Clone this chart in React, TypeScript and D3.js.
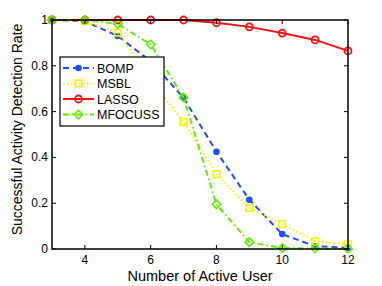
import React, { useEffect, useRef } from 'react';
import * as d3 from 'd3';

const users = [3, 4, 5, 6, 7, 8, 9, 10, 11, 12];
const bomp = [1, 0.995, 0.93, 0.82, 0.66, 0.425, 0.215, 0.065, 0.012, 0.005];
const msbl = [1, 0.995, 0.945, 0.74, 0.555, 0.327, 0.179, 0.109, 0.034, 0.022];
const lasso = [1, 1, 1, 1, 1, 0.988, 0.97, 0.943, 0.913, 0.865];
const mfocuss = [1, 1, 0.983, 0.893, 0.662, 0.195, 0.03, 0.004, 0.002, 0];

const xTicks = [4, 6, 8, 10, 12];
const yTicks = [0, 0.2, 0.4, 0.6, 0.8, 1];

const seriesList = [
  { name: 'BOMP', values: bomp, color: '#1f4fff', dash: '6,4', marker: 'dot' },
  { name: 'MSBL', values: msbl, color: '#f5f500', dash: '1.5,2.5', marker: 'square' },
  { name: 'LASSO', values: lasso, color: '#ff1010', dash: null, marker: 'circle' },
  { name: 'MFOCUSS', values: mfocuss, color: '#5ef000', dash: '6,3,1.5,3', marker: 'diamond' },
];

const W = 382;
const H = 286;
const margin = { left: 52, right: 34, top: 20, bottom: 37 };
const font = 'Arial, "Liberation Sans", sans-serif';

function drawMarker(g: any, kind: string, x: number, y: number, color: string) {
  if (kind === 'dot') {
    g.append('circle').attr('cx', x).attr('cy', y).attr('r', 3.3).attr('fill', color);
  } else if (kind === 'square') {
    g.append('rect').attr('x', x - 3.3).attr('y', y - 3.3).attr('width', 6.6).attr('height', 6.6)
      .attr('fill', 'none').attr('stroke', color).attr('stroke-width', 1.6);
  } else if (kind === 'circle') {
    g.append('circle').attr('cx', x).attr('cy', y).attr('r', 3.5)
      .attr('fill', 'none').attr('stroke', color).attr('stroke-width', 1.8);
  } else {
    const s = 4.2;
    g.append('path').attr('d', `M${x},${y - s}L${x + s},${y}L${x},${y + s}L${x - s},${y}Z`)
      .attr('fill', 'none').attr('stroke', color).attr('stroke-width', 1.6);
  }
}

export default function App() {
  const ref = useRef<SVGSVGElement>(null);

  useEffect(() => {
    const svg = d3.select(ref.current);
    svg.selectAll('*').remove();

    const x = d3.scaleLinear().domain([3, 12]).range([margin.left, W - margin.right]);
    const y = d3.scaleLinear().domain([0, 1]).range([H - margin.bottom, margin.top]);

    const axisG = svg.append('g');
    const x0 = margin.left, x1 = W - margin.right, y0 = H - margin.bottom, y1 = margin.top;

    // ticks inward on all sides
    xTicks.forEach(t => {
      axisG.append('line').attr('x1', x(t)).attr('x2', x(t)).attr('y1', y0).attr('y2', y0 - 4).attr('stroke', '#000');
      axisG.append('line').attr('x1', x(t)).attr('x2', x(t)).attr('y1', y1).attr('y2', y1 + 4).attr('stroke', '#000');
      axisG.append('text').attr('x', x(t)).attr('y', y0 + 14.5).attr('text-anchor', 'middle')
        .attr('font-size', 12).attr('font-family', font).text(t);
    });
    yTicks.forEach(t => {
      axisG.append('line').attr('x1', x0).attr('x2', x0 + 4).attr('y1', y(t)).attr('y2', y(t)).attr('stroke', '#000');
      axisG.append('line').attr('x1', x1).attr('x2', x1 - 4).attr('y1', y(t)).attr('y2', y(t)).attr('stroke', '#000');
      axisG.append('text').attr('x', x0 - 4).attr('y', y(t) + 4).attr('text-anchor', 'end')
        .attr('font-size', 12).attr('font-family', font).text(t);
    });

    const line = d3.line<number>().x((_, i) => x(users[i])).y(d => y(d));

    seriesList.forEach(s => {
      const g = svg.append('g');
      g.append('path').attr('d', line(s.values) as string).attr('fill', 'none')
        .attr('stroke', s.color).attr('stroke-width', 2)
        .attr('stroke-dasharray', s.dash as any);
      s.values.forEach((v, i) => drawMarker(g, s.marker, x(users[i]), y(v), s.color));
    });

    axisG.raise();
    svg.append('rect').attr('x', x0).attr('y', y1).attr('width', x1 - x0).attr('height', y0 - y1)
      .attr('fill', 'none').attr('stroke', '#000').attr('stroke-width', 1.5);

    // legend
    const lg = svg.append('g').attr('transform', 'translate(60,57)');
    lg.append('rect').attr('width', 104).attr('height', 69).attr('fill', '#fff')
      .attr('stroke', '#000').attr('stroke-width', 1.2);
    seriesList.forEach((s, i) => {
      const ly = 11 + i * 15.5;
      lg.append('line').attr('x1', 3).attr('x2', 34).attr('y1', ly).attr('y2', ly)
        .attr('stroke', s.color).attr('stroke-width', 2).attr('stroke-dasharray', s.dash as any);
      drawMarker(lg, s.marker, 18.5, ly, s.color);
      lg.append('text').attr('x', 37).attr('y', ly + 4.5).attr('font-size', 12.5)
        .attr('font-family', font).text(s.name);
    });

    // axis labels
    svg.append('text').attr('x', 200).attr('y', H - 5).attr('text-anchor', 'middle')
      .attr('font-size', 14.5).attr('font-family', font).text('Number of Active User');
    svg.append('text').attr('transform', `translate(22,${(y0 + y1) / 2 - 5}) rotate(-90)`)
      .attr('text-anchor', 'middle').attr('font-size', 14).attr('font-family', font)
      .text('Successful Activity Detection Rate');
  }, []);

  return (
    <svg ref={ref} width={W} height={H} style={{ position: 'absolute', left: 0, top: 0, background: '#fff' }} />
  );
}
